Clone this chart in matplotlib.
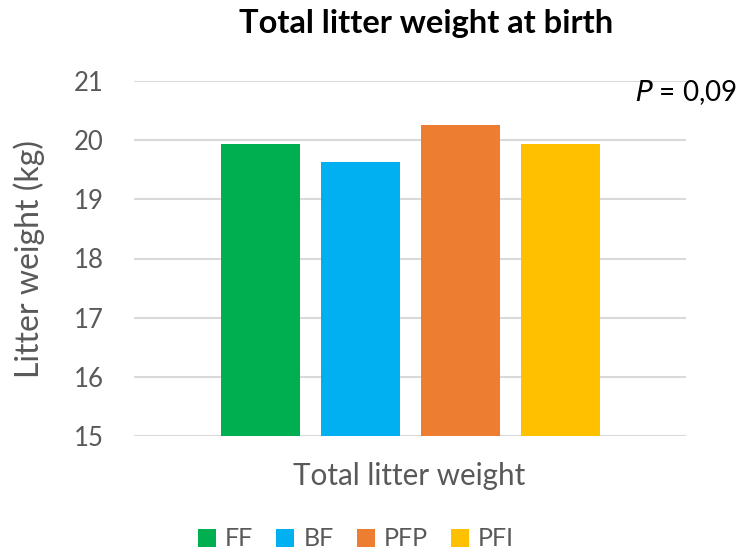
import matplotlib
matplotlib.use("Agg")
import matplotlib.pyplot as plt
from matplotlib.patches import Patch

groups = ["FF", "BF", "PFP", "PFI"]
values = [19.93, 19.63, 20.26, 19.93]
colors = ["#00B050", "#00B0F0", "#ED7D31", "#FFC000"]
yticks = [15, 16, 17, 18, 19, 20, 21]

plt.rcParams['font.family'] = ['Lato', 'DejaVu Sans']
txt = "#595959"

fig = plt.figure(figsize=(7.42, 5.52), dpi=100)
ax = fig.add_axes([134/742, 1-436/552, (686-134)/742, (436-81)/552])

x = list(range(len(groups)))
ax.bar(x, [v - 15 for v in values], bottom=15, width=0.79, color=colors, zorder=3)
ax.set_xlim(-1.26, 4.26)
ax.set_ylim(15, 21)
ax.set_yticks(yticks)
ax.set_yticklabels([str(t) for t in yticks], fontsize=18.5, color=txt)
ax.set_xticks([])
ax.grid(axis='y', color="#D9D9D9", linewidth=1.5, zorder=0)
for s in ax.spines.values():
    s.set_visible(False)
ax.tick_params(axis='y', length=0, pad=22)
ax.yaxis.set_label_coords(-(134-29)/552, (436-265)/355)
ax.set_ylabel("Litter weight (kg)", fontsize=23, color=txt, va='center')

fig.text(409/742, 1-476/552, "Total litter weight", ha='center', va='center',
         fontsize=21.3, color=txt)
fig.text(426/742, 1-23/552, "Total litter weight at birth", ha='center', va='center',
         fontsize=23.5, fontweight='bold', color='black')
fig.text(737/742, 1-93/552, r"$\it{P}$ = 0,09", ha='right', va='center', fontsize=20, color='black')

handles = [Patch(facecolor=c, edgecolor='none') for c in colors]
fig.legend(handles, groups, loc='center', bbox_to_anchor=(356/742, 1-539/552), ncol=4,
           frameon=False, fontsize=18, labelcolor=txt, handlelength=0.72, handleheight=0.72,
           handletextpad=0.36, columnspacing=0.92, borderpad=0, borderaxespad=0)

fig.savefig("out.png", dpi=100)
